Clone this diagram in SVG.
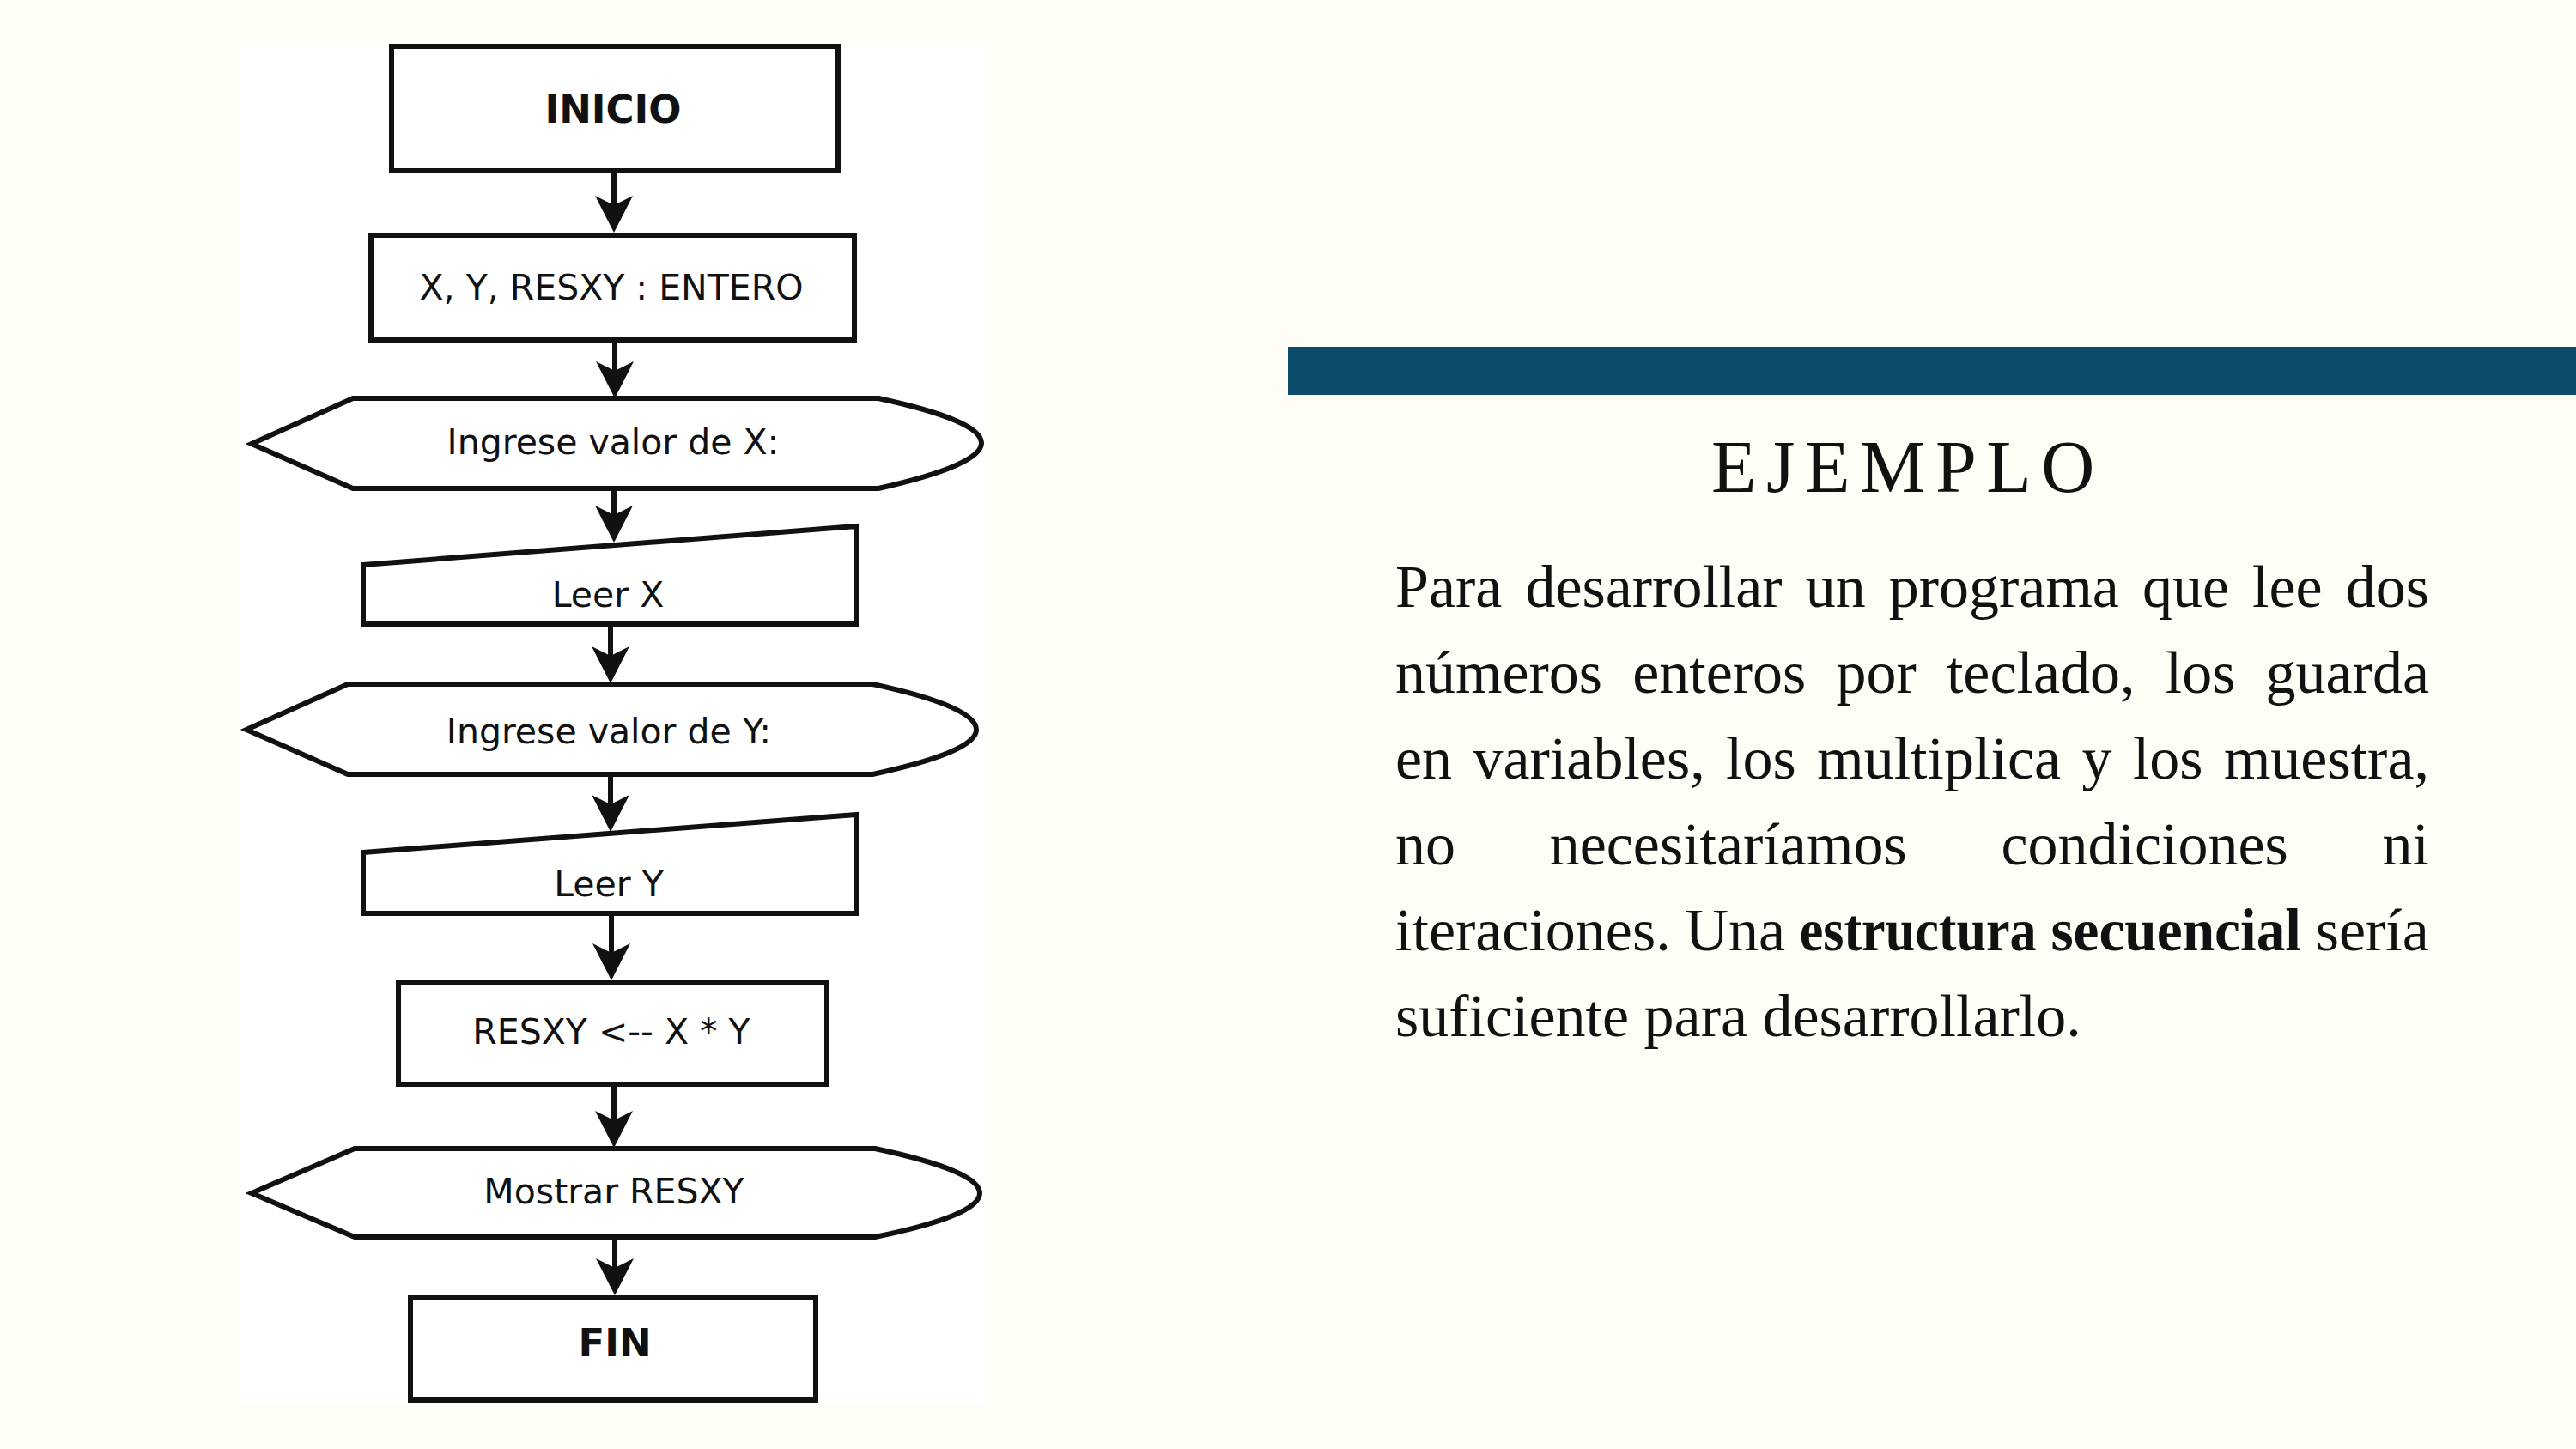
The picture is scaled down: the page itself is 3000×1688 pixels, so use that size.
<svg xmlns="http://www.w3.org/2000/svg" width="3000" height="1688" viewBox="0 0 3000 1688">
<defs>
<style>
.shape{fill:#ffffff;stroke:#111111;stroke-width:6;stroke-linejoin:miter}
.lbl{font-family:"DejaVu Sans","Liberation Sans",sans-serif;font-size:41px;fill:#111111;text-anchor:middle}
.bold{font-weight:bold;font-size:45px}
.conn{stroke:#111111;stroke-width:6;fill:none}
.para{font-family:"Liberation Serif","Times New Roman",serif;font-size:70px;fill:#111111}
.b{font-weight:bold}
</style>
<marker id="arr" markerUnits="userSpaceOnUse" viewBox="-45 -24 47 48" markerWidth="47" markerHeight="48" refX="-30" refY="0" orient="auto" overflow="visible">
<path d="M0,0 L-43,-22 L-32,0 L-43,22 Z" fill="#111111"/>
</marker>
</defs>
<rect x="0" y="0" width="3000" height="1688" fill="#FEFEF6"/>
<rect x="278" y="48" width="869" height="1590" fill="#ffffff"/>

<g id="connectors">
<line class="conn" x1="715" y1="202" x2="715" y2="241" marker-end="url(#arr)"/>
<line class="conn" x1="716" y1="397" x2="716" y2="434" marker-end="url(#arr)"/>
<line class="conn" x1="715" y1="570" x2="715" y2="602" marker-end="url(#arr)"/>
<line class="conn" x1="711" y1="730" x2="711" y2="766" marker-end="url(#arr)"/>
<line class="conn" x1="711" y1="903" x2="711" y2="939" marker-end="url(#arr)"/>
<line class="conn" x1="712" y1="1067" x2="712" y2="1112" marker-end="url(#arr)"/>
<line class="conn" x1="715" y1="1266" x2="715" y2="1307" marker-end="url(#arr)"/>
<line class="conn" x1="716" y1="1441" x2="716" y2="1479" marker-end="url(#arr)"/>
</g>

<g id="inicio">
<rect class="shape" x="456" y="54" width="520" height="145"/>
<text class="lbl bold" x="714" y="143">INICIO</text>
</g>
<g id="declaracion">
<rect class="shape" x="432" y="274" width="563" height="122"/>
<text class="lbl" x="712" y="349">X, Y, RESXY : ENTERO</text>
</g>
<g id="ingrese-x">
<path class="shape" d="M293,517 L411,464 L1023,464 Q1143,490 1143,516 Q1143,542 1023,569 L411,569 Z"/>
<text class="lbl" x="714" y="529">Ingrese valor de X:</text>
</g>
<g id="leer-x">
<path class="shape" d="M423,658 L997,613 L997,727 L423,727 Z"/>
<text class="lbl" x="708" y="707">Leer X</text>
</g>
<g id="ingrese-y">
<path class="shape" d="M287,850 L405,797 L1016,797 Q1137,823 1137,850 Q1137,876 1016,902 L405,902 Z"/>
<text class="lbl" x="709" y="866">Ingrese valor de Y:</text>
</g>
<g id="leer-y">
<path class="shape" d="M423,993 L997,949 L997,1064 L423,1064 Z"/>
<text class="lbl" x="709" y="1044">Leer Y</text>
</g>
<g id="calculo">
<rect class="shape" x="464" y="1145" width="499" height="118"/>
<text class="lbl" x="712" y="1216">RESXY &lt;-- X * Y</text>
</g>
<g id="mostrar">
<path class="shape" d="M293,1390 L413,1338 L1019,1338 Q1141,1364 1141,1390 Q1141,1416 1019,1441 L413,1441 Z"/>
<text class="lbl" x="715" y="1402">Mostrar RESXY</text>
</g>
<g id="fin">
<rect class="shape" x="478" y="1512" width="472" height="119"/>
<text class="lbl bold" x="716" y="1580">FIN</text>
</g>

<rect x="1500" y="404" width="1500" height="56" fill="#0D4C69"/>
<text x="1993" y="573" font-family="Liberation Serif, Times New Roman, serif" font-size="86" letter-spacing="11.5" fill="#111111">EJEMPLO</text>

<g class="para">
<text class="para" y="707"><tspan x="1625">Para</tspan><tspan x="1776.4">desarrollar</tspan><tspan x="2102.7">un</tspan><tspan x="2199.7">programa</tspan><tspan x="2494.9">que</tspan><tspan x="2623">lee</tspan><tspan x="2731.8">dos</tspan></text>
<text class="para" y="807"><tspan x="1625">números</tspan><tspan x="1901.2">enteros</tspan><tspan x="2138.5">por</tspan><tspan x="2266.9">teclado,</tspan><tspan x="2521.7">los</tspan><tspan x="2638.5">guarda</tspan></text>
<text class="para" y="907"><tspan x="1625">en</tspan><tspan x="1715.5">variables,</tspan><tspan x="2010.1">los</tspan><tspan x="2116.2">multiplica</tspan><tspan x="2424.5">y</tspan><tspan x="2483.9">los</tspan><tspan x="2589.9">muestra,</tspan></text>
<text class="para" y="1007"><tspan x="1625">no</tspan><tspan x="1804.7">necesitaríamos</tspan><tspan x="2330.4">condiciones</tspan><tspan x="2774.5">ni</tspan></text>
<text class="para" y="1107"><tspan x="1625">iteraciones.</tspan><tspan x="1962.4">Una</tspan><tspan class="b" x="2095.7" textLength="276" lengthAdjust="spacingAndGlyphs">estructura</tspan><tspan class="b" x="2388.4" textLength="291.6" lengthAdjust="spacingAndGlyphs">secuencial</tspan><tspan x="2696.7">sería</tspan></text>
<text class="para" x="1625" y="1207">suficiente para desarrollarlo.</text>
</g>
</svg>
